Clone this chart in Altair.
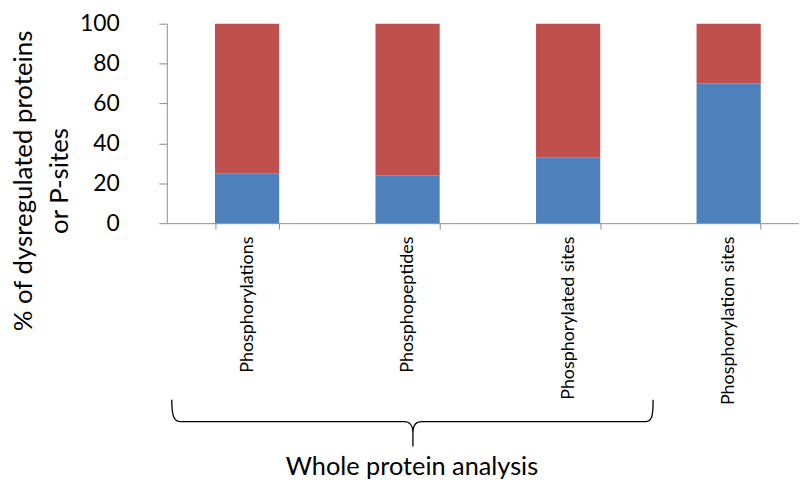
import altair as alt
import pandas as pd

categories = ["Phosphorylations", "Phosphopeptides", "Phosphorylated sites", "Phosphorylation sites"]
series_names = ["Series 1", "Series 2"]
blue_values = [25, 24, 33, 70]
red_values = [75, 76, 67, 30]
y_ticks = [0, 20, 40, 60, 80, 100]
y_title = ["% of dysregulated proteins", "or P-sites"]
group_label = ["Whole protein analysis"]
colors = ["#4F81BD", "#C0504D"]

rows = []
for i, c in enumerate(categories):
    rows.append({"category": c, "series": series_names[0], "order": 0, "value": blue_values[i]})
    rows.append({"category": c, "series": series_names[1], "order": 1, "value": red_values[i]})
df = pd.DataFrame(rows)
label_df = pd.DataFrame({"label": group_label})

FONT = "Lato"
GRAY = "#8c8c8c"

# curly brace drawn as a custom symbol (pixel units when size=4)
BRACE = ("M -243 -22 C -243 -6 -241 0 -234 0 L -9 0 C -3 0 0 3 0 12 L 0 25 "
         "M 0 12 C 0 3 3 0 9 0 L 234 0 C 241 0 242 -6 242 -22")

bars = alt.Chart(df).mark_bar().encode(
    x=alt.X(
        "category:N", sort=categories,
        scale=alt.Scale(range=[0, 647], paddingInner=0.6, paddingOuter=0.3),
        axis=alt.Axis(title=None, labelAngle=270, labelFont=FONT, labelFontSize=18,
                      labelColor="black", labelPadding=7, tickBand="extent", tickSize=6,
                      tickColor=GRAY, domainColor=GRAY, labelOverlap=False, labelLimit=300),
    ),
    y=alt.Y(
        "value:Q", stack="zero",
        scale=alt.Scale(domain=[0, 100], nice=False),
        axis=alt.Axis(values=y_ticks, title=y_title, grid=False, tickSize=8,
                      tickColor=GRAY, domainColor=GRAY, labelFont=FONT, labelFontSize=23,
                      labelColor="black", labelPadding=40,
                      titleFont=FONT, titleFontSize=26, titleFontWeight="normal",
                      titleColor="black", titleAngle=270, titleX=-136, titleY=158,
                      titleAlign="center", titleBaseline="alphabetic", titleLineHeight=36),
    ),
    color=alt.Color("series:N", scale=alt.Scale(domain=series_names, range=colors), legend=None),
    order=alt.Order("order:Q", sort="ascending"),
)

brace = alt.Chart(label_df).mark_point(
    shape=BRACE, size=4, filled=False, stroke="black", strokeWidth=1.3, opacity=1
).encode(x=alt.value(248), y=alt.value(401))

text = alt.Chart(label_df).mark_text(
    font=FONT, fontSize=25.5, baseline="alphabetic", align="center", color="black"
).encode(x=alt.value(247), y=alt.value(455), text="label:N")

chart = alt.layer(bars, brace, text).properties(
    width=637, height=201,
    autosize=alt.AutoSizeParams(type="none"),
    padding={"left": 160, "top": 14, "right": 0, "bottom": 262},
).configure_view(stroke=None)

chart.save("out.html", embed_options={"renderer": "svg", "actions": False})
